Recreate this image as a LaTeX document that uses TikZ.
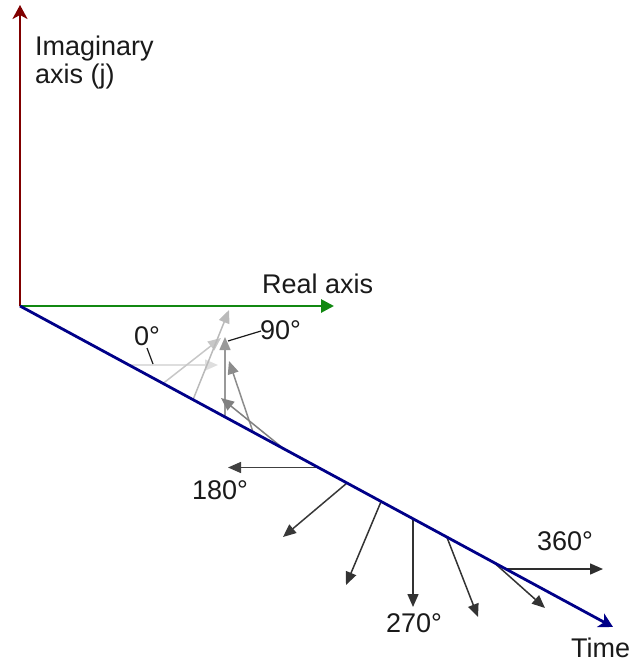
\documentclass[tikz,border=0pt]{standalone}
\usepackage{fontspec}
\setmainfont{Liberation Sans}
\usetikzlibrary{arrows.meta}
\definecolor{imcol}{HTML}{800000}
\definecolor{recol}{HTML}{118811}
\definecolor{tmcol}{HTML}{000088}
\definecolor{txtcol}{HTML}{1A1A1A}
\tikzset{
  axisline/.style={line width=2.8pt},
  phasor/.style={line width=1.5pt,-{Triangle[length=13pt,width=11pt]}},
  leader/.style={line width=1.2pt,txtcol},
  lbl/.style={inner sep=0pt,anchor=base west,text=txtcol,font=\fontsize{27}{28}\selectfont},
}
\begin{document}
\begin{tikzpicture}[x=1pt,y=-1pt]
\useasboundingbox (0,0) rectangle (633,663);
\coordinate (O) at (20,306);
\coordinate (Itip) at (20,5);
\coordinate (Rtip) at (334,306);
\coordinate (Ttip) at (613,627);
% phasor bases and tips
\coordinate (b0) at (129,365);   \coordinate (t0) at (218,365);
\coordinate (b1) at (163,383.5); \coordinate (t1) at (221,338);
\coordinate (b2) at (193,399.8); \coordinate (t2) at (229,310);
\coordinate (b3) at (225,417);   \coordinate (t3) at (225,337);
\coordinate (b4) at (253,432);   \coordinate (t4) at (229,361);
\coordinate (b5) at (284,449);   \coordinate (t5) at (221,398);
\coordinate (b6) at (318,467.5); \coordinate (t6) at (228,467.5);
\coordinate (b7) at (347,483);   \coordinate (t7) at (283,537);
\coordinate (b8) at (381,501.7); \coordinate (t8) at (346,585);
\coordinate (b9) at (413,519);   \coordinate (t9) at (413,607);
\coordinate (b10) at (447,537.5);\coordinate (t10) at (478,617);
\coordinate (b11) at (495,563.5);\coordinate (t11) at (545,608);
\coordinate (b12) at (505,569);  \coordinate (t12) at (603,569);
\draw[phasor,color=black!13] (b0) -- (t0);
\draw[phasor,color=black!22] (b1) -- (t1);
\draw[phasor,color=black!27] (b2) -- (t2);
\draw[phasor,color=black!40] (b3) -- (t3);
\draw[phasor,color=black!45] (b4) -- (t4);
\draw[phasor,color=black!50] (b5) -- (t5);
\draw[phasor,color=black!75] (b6) -- (t6);
\draw[phasor,color=black!78] (b7) -- (t7);
\draw[phasor,color=black!80] (b8) -- (t8);
\draw[phasor,color=black!80] (b9) -- (t9);
\draw[phasor,color=black!80] (b10) -- (t10);
\draw[phasor,color=black!80] (b11) -- (t11);
\draw[phasor,color=black!82] (b12) -- (t12);
% axes
\draw[axisline,imcol,-{Stealth[length=14pt,width=15pt,inset=4pt]}] (O) -- (Itip);
\draw[axisline,recol,-{Triangle[length=13pt,width=13pt]}] (O) -- (Rtip);
\draw[axisline,tmcol,-{Stealth[length=14pt,width=15pt,inset=4pt]}] (O) -- (Ttip);
% labels
\node[lbl,align=left,anchor=north west] (im) at (35,36) {Imaginary\\axis (j)};
\node[lbl] (re) at (262,293) {Real axis};
\node[lbl] (l0) at (134,345) {0°};
\node[lbl] (l90) at (260,339) {90°};
\node[lbl] (l180) at (192,499) {180°};
\node[lbl] (l270) at (386,632) {270°};
\node[lbl] (l360) at (537,550) {360°};
\node[lbl] (tm) at (571,657) {Time};
% leader lines
\coordinate (c0) at (153,364);
\coordinate (c90) at (228,341);
\draw[leader] (147,348) -- (c0);
\draw[leader] (261,331) -- (c90);
\end{tikzpicture}
\end{document}
